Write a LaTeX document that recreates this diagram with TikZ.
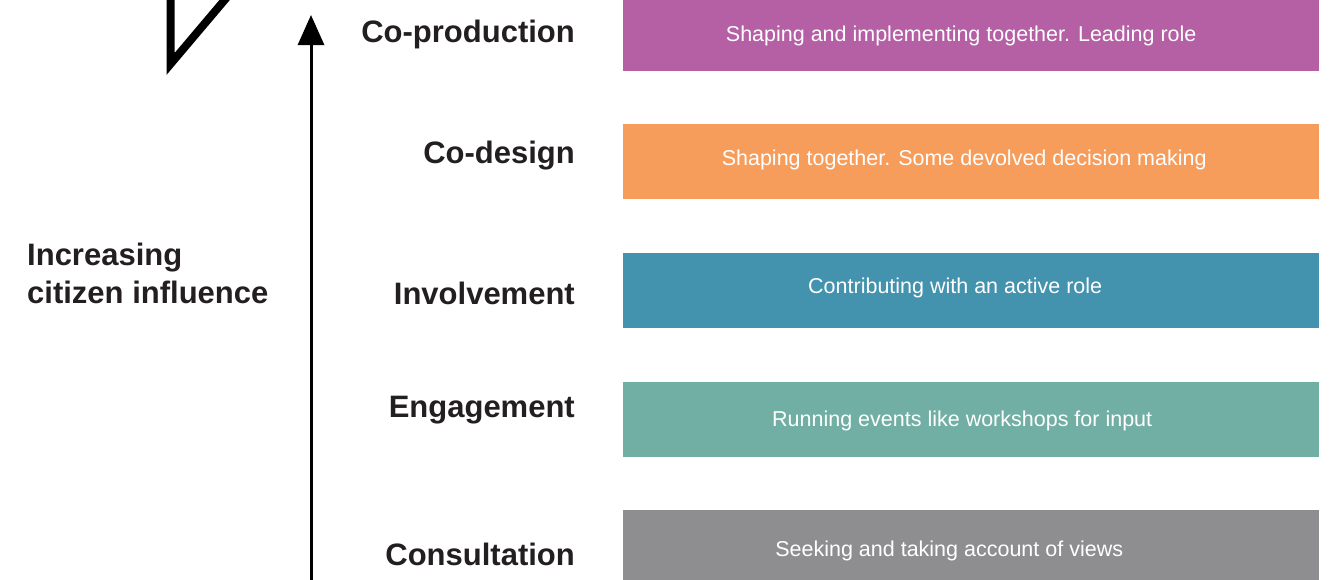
\documentclass[tikz,border=0pt]{standalone}
\usepackage{fontspec}
\setmainfont{Liberation Sans}
\usetikzlibrary{arrows.meta}

\definecolor{coprod}{HTML}{B55FA5}
\definecolor{codesign}{HTML}{F79D5C}
\definecolor{involve}{HTML}{4393AE}
\definecolor{engage}{HTML}{71AFA4}
\definecolor{consult}{HTML}{8E8E90}
\definecolor{ink}{HTML}{231F20}

\begin{document}
\begin{tikzpicture}[x=1pt,y=-1pt,
    stage/.style={font=\fontsize{31}{36}\selectfont\bfseries, text=ink, anchor=base east, inner sep=0pt},
    band/.style={minimum width=696pt, minimum height=75pt, inner sep=0pt, anchor=north west},
    bandtext/.style={text=white, font=\fontsize{21.5}{25}\selectfont, inner sep=0pt}]
                \useasboundingbox (0,0) rectangle (1331,579);
                \clip (0,0) rectangle (1331,579);

                % broken corner mark, top left
                \draw[line width=8pt, miter limit=10] (170.5,-10) -- (170.5,64) -- (228,-4);

                % coloured bands
                \node[band, fill=coprod] (b1) at (623,-4) {};
                \node[band, fill=codesign] (b2) at (623,124) {};
                \node[band, fill=involve] (b3) at (623,253) {};
                \node[band, fill=engage] (b4) at (623,382) {};
                \node[band, fill=consult] (b5) at (623,510) {};

                \node[bandtext] (t1) at ([xshift=-10pt,yshift=-2pt]b1.center) {Shaping and implementing together. Leading role};
                \node[bandtext] (t2) at ([xshift=-7pt,yshift=2pt]b2.center) {Shaping together. Some devolved decision making};
                \node[bandtext] (t3) at ([xshift=-16pt,yshift=3pt]b3.center) {Contributing with an active role};
                \node[bandtext] (t4) at ([xshift=-9pt,yshift=-1pt]b4.center) {Running events like workshops for input};
                \node[bandtext] (t5) at ([xshift=-22pt,yshift=-3pt]b5.center) {Seeking and taking account of views};

                % stage names
                \node[stage] (s1) at (575,42) {Co-production};
                \node[stage] (s2) at (575,163) {Co-design};
                \node[stage] (s3) at (575,304) {Involvement};
                \node[stage] (s4) at (575,417) {Engagement};
                \node[stage] (s5) at (575,565) {Consultation};

                % influence axis
                \coordinate (axisbot) at (311,600);
                \coordinate (axistop) at (311,15);
                \draw[line width=3pt, -{Triangle[length=30pt,width=26pt]}] (axisbot) -- (axistop);

                \node[font=\fontsize{31}{38}\selectfont\bfseries, text=ink, align=left, anchor=base west, inner sep=0pt] (axislabel) at (27,303) {Increasing\\citizen influence};


            \end{tikzpicture}
\end{document}
